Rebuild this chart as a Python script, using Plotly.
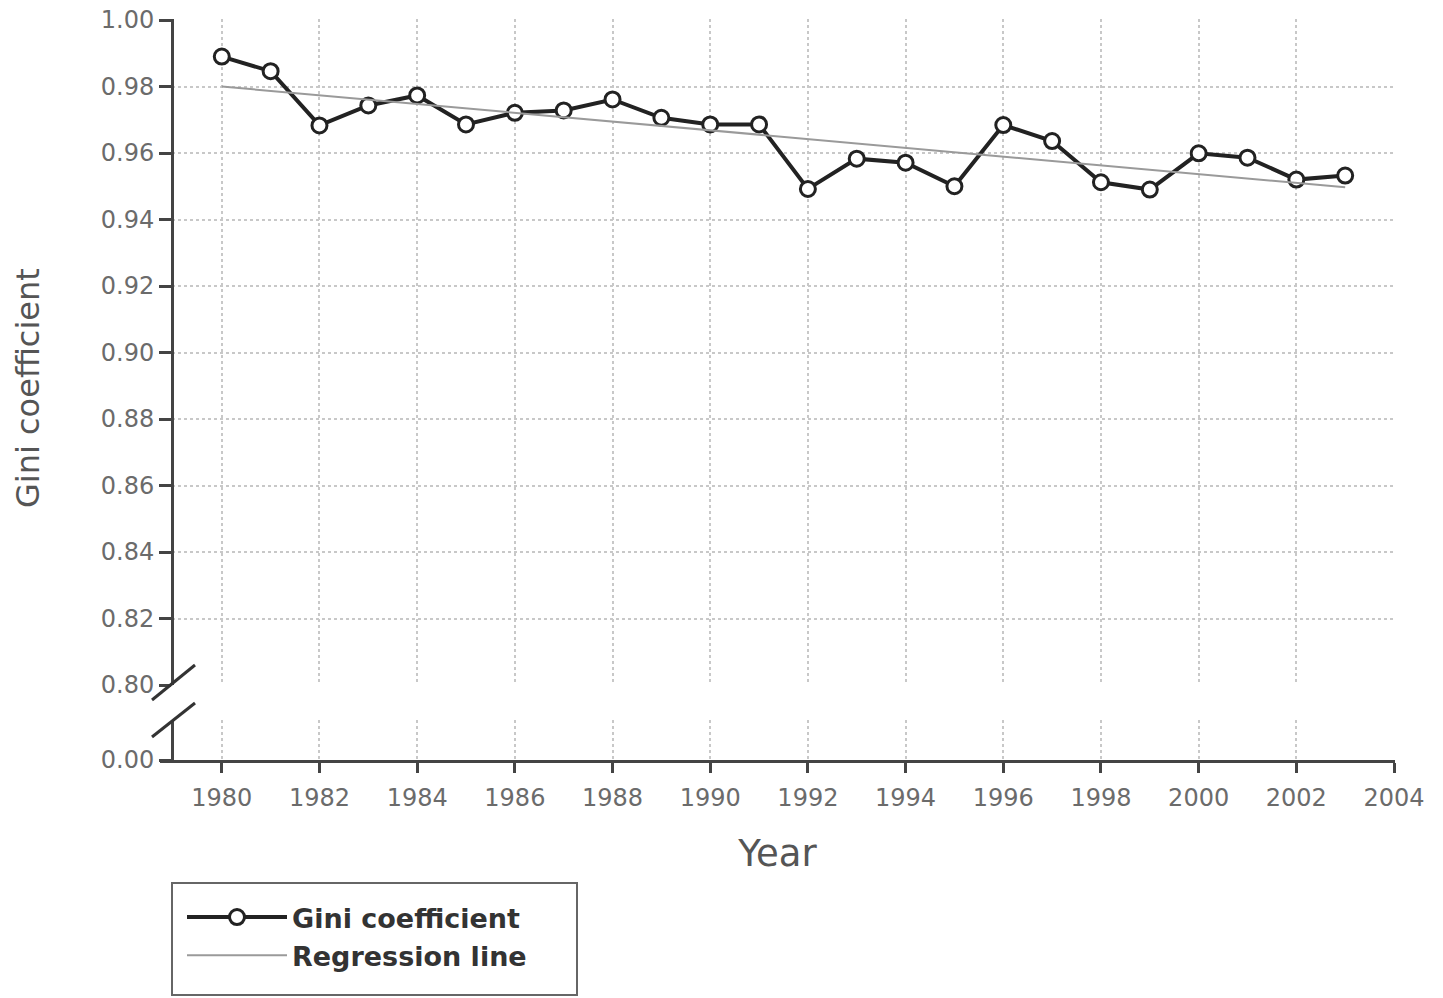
import plotly.graph_objects as go

# ---- data ----
years = [1980, 1981, 1982, 1983, 1984, 1985, 1986, 1987, 1988, 1989, 1990, 1991,
         1992, 1993, 1994, 1995, 1996, 1997, 1998, 1999, 2000, 2001, 2002, 2003]
gini = [0.989, 0.9846, 0.9683, 0.9743, 0.9773, 0.9686, 0.9721, 0.9728, 0.9761, 0.9706,
        0.9686, 0.9686, 0.9492, 0.9583, 0.9571, 0.9500, 0.9684, 0.9636, 0.9512, 0.9490,
        0.9599, 0.9586, 0.9520, 0.9532]
reg_years = [1980, 2003]
reg_values = [0.980, 0.9497]

x_tickvals = list(range(1980, 2005, 2))
y_tickvals = [0.80, 0.82, 0.84, 0.86, 0.88, 0.90, 0.92, 0.94, 0.96, 0.98, 1.00]
y_ticktext = ["0.80", "0.82", "0.84", "0.86", "0.88", "0.90", "0.92", "0.94", "0.96", "0.98", "1.00"]

W, H = 1443, 998
OFF = 0  # body margin removed via post_script
# target screen positions (reference pixels)
LEFT, RIGHT, TOP, BOTTOM = 160, 1395, 19, 760
ML = LEFT - OFF
MT = TOP - OFF
MR = W - (RIGHT - OFF)
MB = H - (BOTTOM - OFF)
PW, PH = W - ML - MR, H - MT - MB

def px(xp):
    return (xp - LEFT) / PW

def py(yp):
    return (BOTTOM - yp) / PH

FONT = "DejaVu Sans"
AXIS_COL = "#444444"
GRID_COL = "#c8c8c8"
TICK_FONT = dict(family=FONT, size=24, color="#6b6b6b")

fig = go.Figure()
fig.add_trace(go.Scatter(
    x=years, y=gini, name="Gini coefficient", mode="lines+markers",
    line=dict(color="#222222", width=4),
    marker=dict(symbol="circle", size=15, color="white",
                line=dict(color="#222222", width=3)),
    xaxis="x", yaxis="y"))
fig.add_trace(go.Scatter(
    x=reg_years, y=reg_values, name="Regression line", mode="lines",
    line=dict(color="#9a9a9a", width=2),
    xaxis="x", yaxis="y"))
# empty trace so the lower (broken) panel exists
fig.add_trace(go.Scatter(x=[None], y=[None], showlegend=False, hoverinfo="skip",
                         xaxis="x", yaxis="y2"))

yaxis_pos = px(172)

fig.update_layout(
    width=W, height=H,
    margin=dict(l=ML, r=MR, t=MT, b=MB, autoexpand=False),
    paper_bgcolor="white", plot_bgcolor="white",
    showlegend=True,
    xaxis=dict(
        range=[1978.735, 2004.02], anchor="y2", automargin=False,
        tickvals=x_tickvals, ticks="outside", ticklen=10, tickwidth=3, tickcolor=AXIS_COL,
        showline=True, linecolor=AXIS_COL, linewidth=3,
        showgrid=True, gridcolor=GRID_COL, griddash="dot", gridwidth=1.5,
        zeroline=False, tickfont=TICK_FONT, ticklabelstandoff=4,
        ticklabeloverflow="allow",
        title=dict(text="Year", font=dict(family=FONT, size=37, color="#555555"), standoff=30),
    ),
    yaxis=dict(
        domain=[py(685), 1.0], range=[0.80, 1.0003], automargin=False,
        anchor="free", position=yaxis_pos,
        tickvals=y_tickvals, ticktext=y_ticktext,
        ticks="outside", ticklen=12, tickwidth=3, tickcolor=AXIS_COL,
        showline=True, linecolor=AXIS_COL, linewidth=3,
        showgrid=True, gridcolor=GRID_COL, griddash="dot", gridwidth=1.5,
        zeroline=False, tickfont=TICK_FONT, ticklabeloverflow="allow",
    ),
    yaxis2=dict(
        domain=[0.0, py(720)], range=[0, 1], automargin=False,
        anchor="free", position=yaxis_pos,
        tickvals=[0], ticktext=["0.00"],
        ticks="outside", ticklen=12, tickwidth=3, tickcolor=AXIS_COL,
        showline=True, linecolor=AXIS_COL, linewidth=3,
        showgrid=False, zeroline=False, tickfont=TICK_FONT, ticklabeloverflow="allow",
    ),
    legend=dict(
        x=px(182), y=py(893), xanchor="left", yanchor="top",
        borderwidth=0, bgcolor="rgba(0,0,0,0)",
        font=dict(family=FONT, size=27, color="#333333", weight="bold"),
        itemwidth=100,
    ),
    annotations=[dict(
        text="Gini coefficient", textangle=-90, xref="paper", yref="paper",
        x=px(28), y=py(388), xanchor="center", yanchor="middle", showarrow=False,
        font=dict(family=FONT, size=32, color="#555555"))],
    shapes=[
        dict(type="line", xref="paper", yref="paper",
             x0=px(152), y0=py(700), x1=px(195), y1=py(665),
             line=dict(color="#333333", width=3)),
        dict(type="line", xref="paper", yref="paper",
             x0=px(152), y0=py(737), x1=px(195), y1=py(703),
             line=dict(color="#333333", width=3)),
        dict(type="rect", xref="paper", yref="paper",
             x0=px(172), y0=py(883), x1=px(577), y1=py(995),
             line=dict(color="#666666", width=2)),
    ],
)

fig.write_html("out.html", config={"displayModeBar": False},
               post_script="document.body.style.margin='0';document.body.style.overflow='hidden';")
